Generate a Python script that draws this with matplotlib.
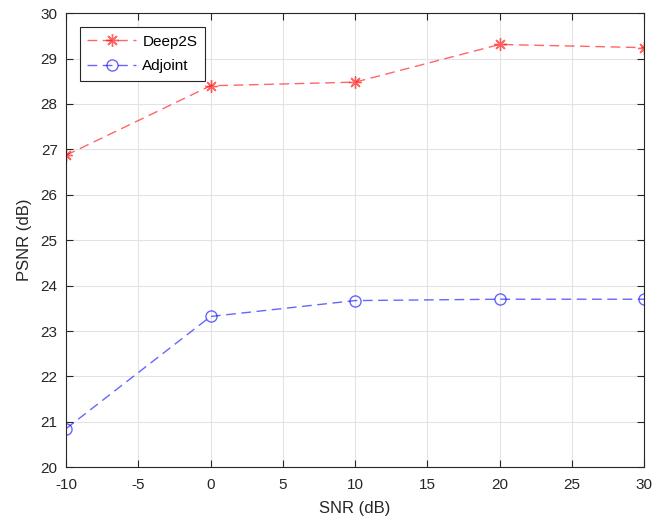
import numpy as np
import matplotlib
matplotlib.use('Agg')
import matplotlib.pyplot as plt

plt.rcParams['font.family'] = ['Liberation Sans', 'DejaVu Sans']
plt.rcParams['axes.unicode_minus'] = False

snr = [-10, 0, 10, 20, 30]
psnr_deep2s = [26.87, 28.40, 28.48, 29.31, 29.24]
psnr_adjoint = [20.85, 23.32, 23.67, 23.70, 23.70]

fig = plt.figure(figsize=(6.54, 5.25), dpi=100)
ax = fig.add_axes([0.101, 0.110, 0.884, 0.865])

# MATLAB-like asterisk marker (8 arms)
ax.plot(snr, psnr_deep2s, linestyle=(0, (7, 4)), color=(1, 0, 0, 0.6), marker=(8, 2, 0),
        markersize=9, markeredgewidth=1, linewidth=1, label='Deep2S')
ax.plot(snr, psnr_adjoint, linestyle=(0, (7, 4)), color=(0, 0, 1, 0.6), marker='o',
        markersize=8, markerfacecolor='none', markeredgewidth=1, linewidth=1, label='Adjoint')

ax.set_xlim(-10, 30)
ax.set_ylim(20, 30)
ax.set_xticks(np.arange(-10, 31, 5))
ax.set_yticks(np.arange(20, 31, 1))
ax.grid(True, color='#e3e3e3', linewidth=0.8)
ax.set_axisbelow(True)
ax.tick_params(direction='in', top=True, right=True, labelsize=11, colors='#262626', length=5)
ax.tick_params(axis='x', pad=8)
ax.tick_params(axis='y', pad=6)
for s in ax.spines.values():
    s.set_color('#262626')
    s.set_linewidth(0.8)

ax.set_xlabel('SNR (dB)', fontsize=12, color='#262626', labelpad=6)
ax.set_ylabel('PSNR (dB)', fontsize=12, color='#262626', labelpad=6)

leg = ax.legend(loc='upper left', fontsize=11, fancybox=False, edgecolor='#262626',
                handlelength=3.2, handletextpad=0.4, borderaxespad=0.9, framealpha=1,
                labelspacing=0.7, borderpad=0.5)
leg.get_frame().set_linewidth(0.8)

fig.savefig('out.png', dpi=100)
